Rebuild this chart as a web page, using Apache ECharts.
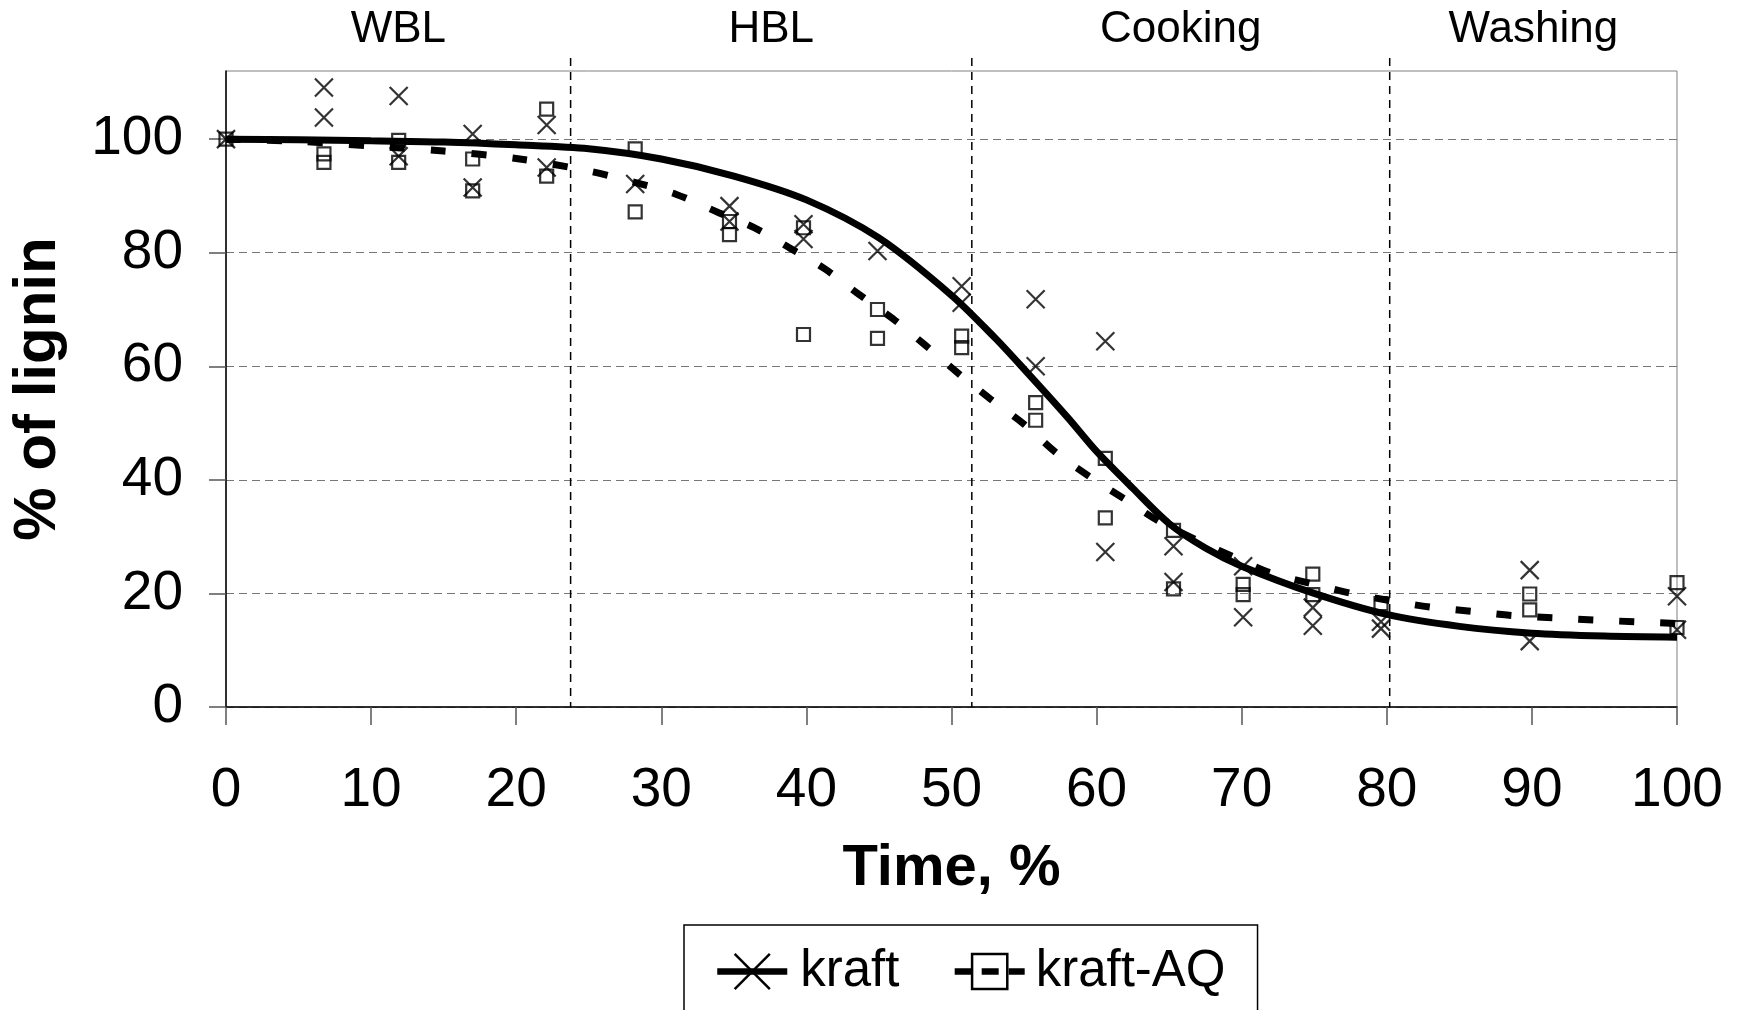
<!DOCTYPE html>
<html><head><meta charset="utf-8">
<script src="https://cdn.jsdelivr.net/npm/echarts@6/dist/echarts.min.js"></script>
<style>html,body{margin:0;padding:0;background:#fff}#c{width:1741px;height:1010px}</style>
</head><body><div id="c"></div>
<script>
// ---- data ----
const yTickValues = [0, 20, 40, 60, 80, 100];
const phaseNames = ['WBL', 'HBL', 'Cooking', 'Washing'];
const phaseBounds = [0, 23.75, 51.4, 80.2, 100];
const seriesNames = ['kraft', 'kraft-AQ'];

// measured points (time %, % of lignin)
const kraftPoints = [
  [0,100],[6.75,109.1],[6.75,103.8],[11.9,107.6],[11.9,97.0],[17,100.9],[17,91.5],
  [22.1,102.5],[22.1,95.0],[28.2,92.1],[34.7,88.2],[34.7,85.5],[39.8,85.0],[39.8,82.4],
  [44.9,80.3],[50.7,74.1],[50.7,71.2],[55.8,71.8],[55.8,60.0],[60.6,64.4],[60.6,27.3],
  [65.3,28.3],[65.3,22.0],[70.1,24.8],[70.1,15.8],[74.9,17.5],[74.9,14.3],
  [79.6,15.0],[79.6,13.8],[89.85,24.1],[89.85,11.6],[100,19.5],[100,13.6]
];
const kraftAQPoints = [
  [0,100],[6.75,97.4],[6.75,95.9],[11.9,99.8],[11.9,95.9],[17,96.5],[17,90.9],
  [22.1,105.3],[22.1,93.5],[28.2,98.3],[28.2,87.2],[34.7,85.5],[34.7,83.2],
  [39.8,84.4],[39.8,65.6],[44.9,70.0],[44.9,64.9],[50.7,65.3],[50.7,63.3],
  [55.8,53.6],[55.8,50.5],[60.6,43.8],[60.6,33.3],[65.3,31.1],[65.3,20.8],
  [70.1,21.6],[70.1,19.8],[74.9,23.4],[74.9,19.8],[79.6,18.2],
  [89.85,19.9],[89.85,17.1],[100,21.9],[100,14.0]
];

// fitted curves
const kraftFit = [
  [0,100],[5,99.9],[10,99.7],[15,99.5],[20,99.0],[25,98.3],[30,96.5],[35,93.5],
  [40,89.3],[45,82.6],[50,72.5],[53,65],[55,59.5],[58,51],[60,45],[62.5,38.5],
  [65,32.3],[67.5,28],[70,24.8],[75,20.0],[80,16.3],[85,14.2],[90,13.0],[95,12.5],[100,12.3]
];
const kraftAQFit = [
  [0,100],[5,99.6],[10,98.8],[15,97.9],[20,96.6],[25,94.4],[28,92.5],[31,90.3],
  [34,87],[36.4,84.4],[38.8,80.9],[41.3,77.1],[43.6,72.7],[46,68.3],[48.2,63.7],
  [50.4,58.9],[52.7,54.2],[55,49.8],[57.2,44.8],[59.5,40.6],[62,36.5],[64.3,32.7],
  [66.8,29.5],[70,25.8],[72,23.6],[75,21.6],[77.6,20.0],[80.5,18.6],[83,17.6],
  [86,16.8],[88.7,16.1],[91.6,15.7],[94.4,15.3],[97.2,15.0],[100,14.7]
];

// ---- chart ----
const FONT = '"Liberation Sans", Arial, sans-serif';
const X_SYMBOL = 'path://M0,0L10,10M10,0L0,10';
const chart = echarts.init(document.getElementById('c'), null, {renderer: 'canvas'});

const option = {
  animation: false,
  backgroundColor: '#fff',
  textStyle: {fontFamily: FONT, color: '#000'},
  grid: {left: 225, right: 64, top: 71, bottom: 303, show: true,
         borderColor: '#808080', borderWidth: 1, backgroundColor: 'transparent'},
  legend: {
    left: 684, top: 925,
    padding: [21, 32, 60, 30],
    borderColor: '#000', borderWidth: 1.5,
    itemWidth: 70, itemHeight: 44, itemGap: 52,
    textStyle: {fontSize: 51, color: '#000', fontFamily: FONT},
    itemStyle: {borderWidth: 2.5},
    data: [
      {name: seriesNames[0], lineStyle: {width: 6.5, color: '#000', type: 'solid'},
       textStyle: {padding: [0, 0, 0, 8]}},
      {name: seriesNames[1], lineStyle: {width: 6.5, color: '#000', type: [17, 10]},
       textStyle: {padding: [0, 0, 0, 6]}}
    ]
  },
  xAxis: {
    type: 'value', min: 0, max: 100, interval: 10,
    name: 'Time, %', nameLocation: 'middle', nameGap: 133,
    nameTextStyle: {fontSize: 58, fontWeight: 'bold', color: '#000', fontFamily: FONT},
    axisLine: {show: true, lineStyle: {color: '#000', width: 1.5}},
    axisTick: {show: true, inside: false, length: 18, lineStyle: {color: '#555', width: 1.5}},
    axisLabel: {fontSize: 55, margin: 56, color: '#000', fontFamily: FONT},
    splitLine: {show: false}
  },
  yAxis: {
    type: 'value', min: 0, max: 112, interval: 20,
    name: '% of lignin', nameLocation: 'middle', nameGap: 158, nameRotate: 90,
    nameTextStyle: {fontSize: 60, fontWeight: 'bold', color: '#000', fontFamily: FONT},
    axisLine: {show: true, lineStyle: {color: '#000', width: 1.5}},
    axisTick: {show: true, inside: false, length: 17, lineStyle: {color: '#555', width: 1.5},
               customValues: yTickValues},
    axisLabel: {fontSize: 55, margin: 43, color: '#000', fontFamily: FONT,
                customValues: yTickValues},
    splitLine: {show: true, lineStyle: {color: '#777', width: 1, type: [8, 5]}}
  },
  series: [
    {
      name: seriesNames[0], type: 'line', data: kraftFit, smooth: 0.3,
      symbol: X_SYMBOL, symbolSize: 30, showSymbol: false,
      itemStyle: {color: 'none', borderColor: '#000', borderWidth: 2.5},
      lineStyle: {color: '#000', width: 7, type: 'solid'}, z: 3
    },
    {
      name: seriesNames[1], type: 'line', data: kraftAQFit, smooth: 0.3,
      symbol: 'rect', symbolSize: 24, showSymbol: false,
      itemStyle: {color: 'none', borderColor: '#000', borderWidth: 2.5},
      lineStyle: {color: '#000', width: 7, type: [15, 26], cap: 'butt'}, z: 3
    },
    {
      name: seriesNames[0], type: 'scatter', data: kraftPoints,
      symbol: X_SYMBOL, symbolSize: 18,
      itemStyle: {color: 'none', borderColor: '#000', borderWidth: 2.2}, z: 4
    },
    {
      name: seriesNames[1], type: 'scatter', data: kraftAQPoints,
      symbol: 'rect', symbolSize: 13,
      itemStyle: {color: 'none', borderColor: '#000', borderWidth: 2.2}, z: 4
    }
  ]
};
chart.setOption(option);

// phase boundaries and labels, positioned through the axes
function drawPhases() {
  const toPx = (x, y) => chart.convertToPixel({xAxisIndex: 0, yAxisIndex: 0}, [x, y]);
  const topPx = toPx(0, 112)[1];
  const botPx = toPx(0, 0)[1];
  const els = [];
  for (let i = 1; i < phaseBounds.length - 1; i++) {
    const px = toPx(phaseBounds[i], 0)[0];
    els.push({
      type: 'line', silent: true, z: 2,
      shape: {x1: px, y1: topPx - 13, x2: px, y2: botPx},
      style: {stroke: '#000', lineWidth: 1.5, lineDash: [8, 6]}
    });
  }
  for (let i = 0; i < phaseNames.length; i++) {
    const mid = (phaseBounds[i] + phaseBounds[i + 1]) / 2;
    const px = toPx(mid, 0)[0];
    els.push({
      type: 'text', silent: true, z: 5,
      x: px, y: topPx - 41,
      style: {text: phaseNames[i], fontSize: 44, fontFamily: FONT, fill: '#000',
               align: 'center', verticalAlign: 'middle'}
    });
  }
  chart.setOption({graphic: els});
}
drawPhases();
</script>
</body></html>
